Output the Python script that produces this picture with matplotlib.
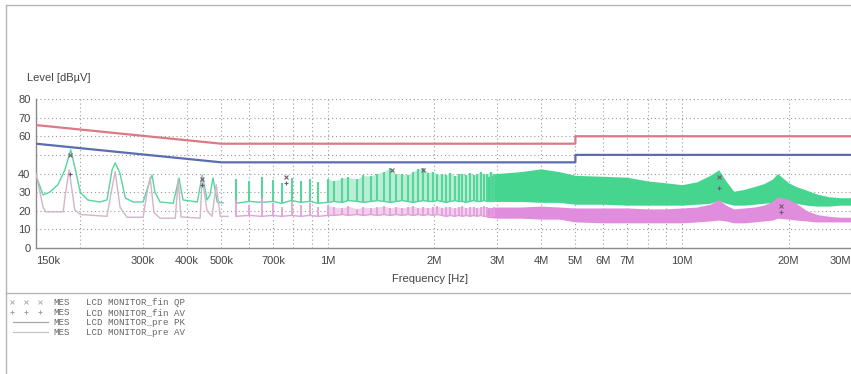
import matplotlib
matplotlib.use('Agg')
import matplotlib.pyplot as plt
from matplotlib.lines import Line2D

# ---- data (frequencies in MHz, levels in dBuV) ----

# limit lines (QP and AV, class B)
qp_limit_f = [0.15, 0.5, 5.0, 5.0, 30.0]
qp_limit = [66, 56, 56, 60, 60]
av_limit_f = [0.15, 0.5, 5.0, 5.0, 30.0]
av_limit = [56, 46, 46, 50, 50]

# pre-scan peak trace below 500k (broad peaks)
low_pk_f = [0.150, 0.157, 0.164, 0.173, 0.181, 0.188, 0.193, 0.200, 0.210, 0.227,
            0.238, 0.246, 0.251, 0.259, 0.268, 0.282, 0.301, 0.313, 0.319, 0.325,
            0.336, 0.366, 0.380, 0.390, 0.428, 0.442, 0.456, 0.465, 0.474, 0.487,
            0.506]
low_pk = [39, 28.5, 30, 34, 42, 52.7, 43.5, 30, 25.8, 24.7,
          25.8, 42, 45.7, 40, 26.9, 24.7, 24.7, 35, 39.2, 30,
          24.7, 24, 37.6, 25.8, 24.7, 39.2, 25.8, 28.5, 37.6, 24.7,
          24.2]

# pre-scan average trace below 500k
low_av_f = [0.150, 0.157, 0.160, 0.179, 0.181, 0.186, 0.193, 0.200, 0.238, 0.243,
            0.251, 0.259, 0.271, 0.301, 0.309, 0.315, 0.323, 0.336, 0.371, 0.378,
            0.385, 0.436, 0.442, 0.456, 0.471, 0.484, 0.497, 0.523]
low_av = [40, 22, 19.4, 19.4, 27, 42, 20.4, 18, 17, 27,
          41, 22, 16.5, 16.5, 30, 38, 19, 16, 16, 36.6,
          16.7, 16, 38, 20, 17, 34, 17, 17]

# harmonic comb 0.5M - 3M (spike tops and floor between spikes)
comb_f = [0.55, 0.60, 0.65, 0.70, 0.74, 0.79, 0.84, 0.89, 0.94, 1.00,
          1.04, 1.10, 1.14, 1.21, 1.26, 1.32, 1.38, 1.44, 1.50, 1.56,
          1.62, 1.68, 1.74, 1.80, 1.86, 1.92, 1.98, 2.04, 2.10, 2.16,
          2.22, 2.28, 2.34, 2.40, 2.46, 2.52, 2.58, 2.64, 2.70, 2.76,
          2.82, 2.88, 2.94]
comb_pk_top = [37, 36, 38, 36.5, 35, 37.5, 36, 37, 35.5, 37,
               36, 37.5, 38, 37, 39, 38.5, 40, 41, 43, 39.5,
               40, 39, 41, 42.5, 43, 40.5, 41, 39.5, 40, 39,
               40.5, 38.5, 39.5, 40, 39, 40.5, 39, 40, 41, 39.5,
               40, 41, 40]
comb_pk_floor = [24, 25, 24.5, 25, 24, 25.5, 24.5, 25, 24, 24.5,
                 25, 24.5, 25.5, 25, 24.5, 25, 25.5, 25, 24.5, 25,
                 25.5, 25, 24.5, 25, 25.5, 25, 25, 25.5, 25, 24.5,
                 25, 25.5, 25, 25, 24.5, 25, 25.5, 25, 25, 25.5,
                 25, 25, 25]
comb_av_top = [26, 23, 27, 24, 22, 25, 23, 24, 22, 23,
               22, 21.5, 22.5, 21, 22, 21.5, 22, 22.5, 21.5, 22,
               21.5, 22, 22.5, 21.5, 22, 21.5, 22, 22.5, 21.5, 22,
               22, 21.5, 22, 22.5, 21.5, 22, 22, 21.5, 22, 22.5,
               22, 21.5, 22]
comb_av_floor = [17, 17.5, 17, 17.5, 17, 17.5, 17, 17.5, 17, 17.5,
                 17.5, 18, 17.5, 18, 17.5, 18, 17.5, 18, 17.5, 18,
                 17.5, 18, 17.5, 18, 17.5, 18, 17.5, 18, 17.5, 17,
                 17.5, 17, 17.5, 17, 17.5, 17, 17.5, 17, 17.5, 17,
                 17, 17, 17]

# dense band 2.8M - 30M (upper / lower envelope)
band_f = [2.8, 3.0, 3.5, 4.0, 4.5, 5.0, 6.0, 7.0, 8.0, 9.0,
          10.0, 11.0, 12.0, 12.7, 13.3, 14.0, 15.0, 16.0, 17.0, 18.0,
          18.6, 20.0, 21.0, 22.5, 24.0, 26.0, 28.0, 30.0]
band_pk_hi = [38, 40, 41, 42.5, 41, 39, 38.5, 38, 36, 35,
              34, 35.5, 39, 42, 36, 30.5, 31.5, 33, 34.5, 37,
              40, 35, 33, 31, 29, 27.5, 27, 27]
band_pk_lo = [25.5, 25, 25, 24.5, 24.5, 23.5, 23.5, 23, 23, 23,
              23, 23.5, 24, 25.5, 24, 23, 23, 23.5, 24, 24.5,
              25, 24.5, 24, 23, 22.5, 22.5, 23, 23]
band_av_hi = [21.5, 22, 22, 22.5, 22, 21.5, 21.5, 21.5, 21, 21,
              21.5, 22, 23.5, 26, 23, 21, 21.5, 22, 23, 25,
              27.5, 26, 24, 20, 18, 17, 16.5, 16.5]
band_av_lo = [16.5, 16, 16, 15.5, 15.5, 14, 13.5, 13.5, 13.5, 13.5,
              13.5, 14, 14.5, 15, 14.5, 13.5, 13.5, 14, 14.5, 15,
              16, 15.5, 15, 14.5, 14, 14, 14, 14]

# final measurement points
fin_qp_f = [0.187, 0.442, 0.76, 1.52, 1.86, 12.7, 19.0]
fin_qp = [50, 37, 38, 42, 42, 38, 22.3]
fin_av_f = [0.187, 0.442, 0.76, 12.7, 19.0]
fin_av = [40, 34, 35, 32, 19.5]

# axis ticks
xtick_f = [0.15, 0.3, 0.4, 0.5, 0.7, 1, 2, 3, 4, 5, 6, 7, 10, 20, 30]
xtick_labels = ['150k', '300k', '400k', '500k', '700k', '1M', '2M', '3M', '4M',
                '5M', '6M', '7M', '10M', '20M', '30M']
xgrid_f = [0.2, 0.3, 0.4, 0.5, 0.6, 0.7, 0.8, 0.9, 1, 2, 3, 4, 5, 6, 7, 8, 9, 10, 20]
ytick_vals = [0, 10, 20, 30, 40, 60, 70, 80]
ygrid_vals = [10, 20, 30, 40, 50, 60, 70, 80]

legend_rows = ['LCD MONITOR_fin QP', 'LCD MONITOR_fin AV',
               'LCD MONITOR_pre PK', 'LCD MONITOR_pre AV']

GREEN = '#55d69c'
GREEN_PALE = '#b9eed4'
GREEN_BAND = '#45d58f'
PINK = '#e3a0db'
PINK_PALE = '#f1d0ec'
PINK_BAND = '#e08ddd'
AV_LOW = '#d2b4cb'
RED = '#d97a84'
BLUE = '#5b6db0'
GRID = '#9a9a9a'
TEXT = '#444444'

plt.rcParams['font.family'] = ['Liberation Sans', 'DejaVu Sans']

W, H = 851, 374


def draw_frame(fig):
    # thin border of the printed page + line above the legend block
    for xs, ys in [([6, W], [5, 5]), ([6, 6], [5, H]), ([6, W], [293, 293])]:
        fig.add_artist(Line2D([x / W for x in xs], [1 - y / H for y in ys],
                              color='#b5b5b5', lw=1.0))


def draw_plot(ax):
    # grid first
    for f in xgrid_f:
        ax.axvline(f, color=GRID, lw=0.8, ls=(0, (1, 2.5)), zorder=0)
    for v in ygrid_vals:
        ax.axhline(v, color=GRID, lw=0.8, ls=(0, (1, 2.5)), zorder=0)

    dense = [f >= 1.0 for f in comb_f]

    # pre-scan peak (green)
    ax.fill_between(comb_f, comb_pk_floor, comb_pk_top, where=dense,
                    color=GREEN_PALE, lw=0, zorder=1)
    ax.fill_between(band_f, band_pk_lo, band_pk_hi, color=GREEN_BAND, lw=0, zorder=2)
    ax.plot(low_pk_f, low_pk, color=GREEN, lw=1.0, zorder=2)
    ax.vlines(comb_f, comb_pk_floor, comb_pk_top, color=GREEN, lw=1.5, zorder=2)
    ax.plot(comb_f, comb_pk_floor, color=GREEN, lw=1.0, zorder=2)

    # pre-scan average (pink)
    ax.fill_between(comb_f, comb_av_floor, comb_av_top, where=dense,
                    color=PINK_PALE, lw=0, zorder=3)
    ax.fill_between(band_f, band_av_lo, band_av_hi, color=PINK_BAND, lw=0, zorder=3)
    ax.plot(low_av_f, low_av, color=AV_LOW, lw=1.0, zorder=3)
    ax.vlines(comb_f, comb_av_floor, comb_av_top, color=PINK, lw=1.3, zorder=3)
    ax.plot(comb_f, comb_av_floor, color=PINK, lw=1.0, zorder=3)

    # limits
    ax.plot(qp_limit_f, qp_limit, color=RED, lw=1.6, zorder=4)
    ax.plot(av_limit_f, av_limit, color=BLUE, lw=1.6, zorder=4)

    # final measurement markers
    ax.plot(fin_qp_f, fin_qp, 'x', color='#7a5a70', ms=3, mew=0.8, zorder=5)
    ax.plot(fin_av_f, fin_av, '+', color='#6a5a80', ms=3.5, mew=0.8, zorder=5)

    ax.set_xscale('log')
    ax.set_xlim(0.15, 30)
    ax.set_ylim(0, 80)

    ax.minorticks_off()
    ax.set_xticks(xtick_f)
    ax.set_xticklabels(xtick_labels)
    ax.set_yticks(ytick_vals)
    ax.tick_params(length=0, labelsize=8, colors=TEXT)
    ax.tick_params(axis='x', pad=6)
    ax.tick_params(axis='y', pad=4)
    labels = ax.get_xticklabels()
    labels[0].set_ha('left')
    labels[-1].set_ha('right')

    for side in ['top', 'right']:
        ax.spines[side].set_visible(False)
    for side in ['left', 'bottom']:
        ax.spines[side].set_color('#8a8a8a')
        ax.spines[side].set_linewidth(1.0)


def draw_legend(fig):
    rows_y = [302, 312, 322, 332]
    mono = ['Liberation Mono', 'DejaVu Sans Mono']
    for i, (label, y) in enumerate(zip(legend_rows, rows_y)):
        fy = 1 - y / H
        base = 1 - (y + 3) / H   # text baseline a bit below the sample mark
        if i == 0:
            fig.add_artist(Line2D([12 / W, 26 / W, 40 / W], [fy] * 3, ls='none',
                                  marker='x', ms=2.5, mew=0.7, color='#b0b0b0'))
        elif i == 1:
            fig.add_artist(Line2D([12 / W, 26 / W, 40 / W], [fy] * 3, ls='none',
                                  marker='+', ms=3, mew=0.7, color='#a0a0a0'))
        else:
            fig.add_artist(Line2D([13 / W, 48 / W], [fy, fy], lw=0.9,
                                  color='#a8a8a8' if i == 2 else '#c4c4c4'))
        fig.text(53 / W, base, 'MES', family=mono, fontsize=6.6, color='#666666',
                 va='baseline')
        fig.text(86 / W, base, label, family=mono, fontsize=6.6, color='#666666',
                 va='baseline')


def main():
    fig = plt.figure(figsize=(W / 100, H / 100), dpi=100)
    ax = fig.add_axes([36 / W, 1 - 248 / H, (W - 36) / W, (248 - 99) / H])
    draw_plot(ax)
    draw_frame(fig)
    fig.text(27 / W, 1 - 78 / H, 'Level [dB\u00b5V]', fontsize=8, color=TEXT, va='center')
    fig.text(430 / W, 1 - 279 / H, 'Frequency [Hz]', fontsize=8, color=TEXT,
             ha='center', va='center')
    draw_legend(fig)
    fig.savefig('out.png', dpi=100)


main()
